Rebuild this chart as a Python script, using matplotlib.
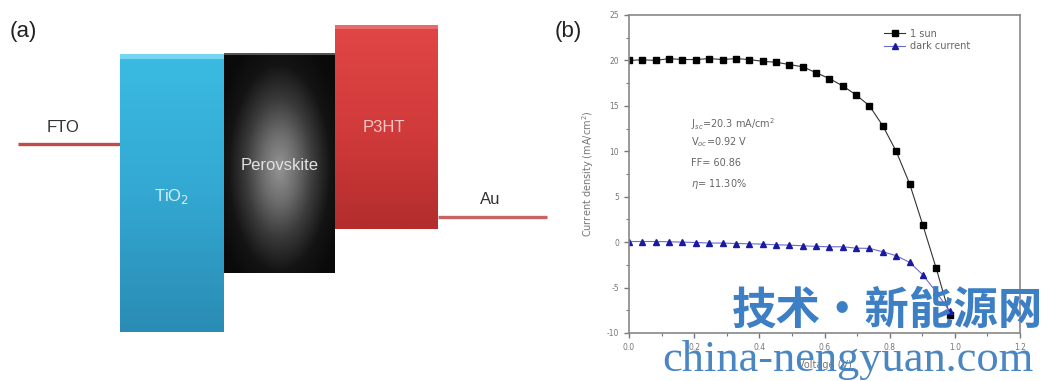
import numpy as np
import matplotlib.pyplot as plt
from matplotlib.colors import LinearSegmentedColormap

plt.rcParams["axes.unicode_minus"] = False

# J-V data
voltage = [0.000, 0.041, 0.082, 0.123, 0.164, 0.205, 0.246, 0.287, 0.328, 0.369,
           0.410, 0.451, 0.492, 0.533, 0.574, 0.615, 0.656, 0.697, 0.738, 0.779,
           0.820, 0.861, 0.902, 0.943, 0.984]
j_sun = [20.0, 20.07, 20.0, 20.2, 20.1, 20.1, 20.2, 20.1, 20.2, 20.1,
         19.9, 19.8, 19.55, 19.3, 18.65, 18.0, 17.2, 16.2, 15.0, 12.8,
         10.0, 6.45, 1.86, -2.9, -8.0]
j_dark = [0.07, 0.07, 0.07, 0.04, 0.0, -0.04, -0.1, -0.1, -0.15, -0.18,
          -0.22, -0.29, -0.33, -0.4, -0.47, -0.51, -0.51, -0.66, -0.69, -1.06,
          -1.49, -2.22, -3.6, -5.5, -7.6]

# energy diagram blocks (pixel coords: x0, x1, y_top, y_bottom)
layers = ["TiO$_2$", "Perovskite", "P3HT"]
layer_x = [(120, 224), (224, 335), (335, 438)]
layer_y = [(54, 332), (53, 273), (25, 229)]
electrodes = ["FTO", "Au"]
electrode_x = [(18, 120), (438, 547)]
electrode_y = [144, 217]

fig = plt.figure(figsize=(10.45, 3.81), dpi=100)
bg = fig.add_axes([0, 0, 1, 1])
bg.set_xlim(0, 1045)
bg.set_ylim(381, 0)
bg.axis("off")

# TiO2 - blue vertical gradient
cm_tio2 = LinearSegmentedColormap.from_list("t", ["#3bbbe1", "#33a8d2", "#2a8cb4"])
grad = np.linspace(0, 1, 200).reshape(-1, 1)
(x0, x1), (yt, yb) = layer_x[0], layer_y[0]
bg.imshow(grad, cmap=cm_tio2, extent=(x0, x1, yb, yt), aspect="auto", zorder=2)
bg.fill_between([x0, x1], yt, yt + 5, color="#74d6f2", zorder=3, lw=0)

# Perovskite - radial gray gradient
(x0, x1), (yt, yb) = layer_x[1], layer_y[1]
gx, gy = np.meshgrid(np.linspace(x0, x1, 120), np.linspace(yt, yb, 240))
cx, cy = (x0 + x1) / 2, (yt + yb) / 2 + 5
r = np.sqrt(((gx - cx) / 62) ** 2 + ((gy - cy) / 125) ** 2)
cm_per = LinearSegmentedColormap.from_list("p", ["#939393", "#6c6c6c", "#3a3a3a", "#141414", "#0a0a0a"])
bg.imshow(np.clip(r, 0, 1.1), cmap=cm_per, extent=(x0, x1, yb, yt), aspect="auto", zorder=2)
bg.fill_between([x0, x1], yt, yt + 2, color="#555555", zorder=3, lw=0)

# P3HT - red vertical gradient
cm_p3 = LinearSegmentedColormap.from_list("r", ["#e04646", "#d23b3b", "#b32d2d"])
(x0, x1), (yt, yb) = layer_x[2], layer_y[2]
bg.imshow(grad, cmap=cm_p3, extent=(x0, x1, yb, yt), aspect="auto", zorder=2)
bg.fill_between([x0, x1], yt, yt + 4, color="#ea6a6a", zorder=3, lw=0)

label_pos = [(172, 197), (280, 165), (384, 127)]
label_col = ["#d5eef7", "#e2e2e2", "#f7c8c8"]
for name, (lx, ly), c in zip(layers, label_pos, label_col):
    bg.text(lx, ly, name, color=c, fontsize=12, ha="center", va="center",
            family="Liberation Sans", zorder=4)

for name, (ex0, ex1), ey, c in zip(electrodes, electrode_x, electrode_y, ["#c24b4b", "#c86464"]):
    bg.plot([ex0, ex1], [ey, ey], color=c, lw=2.4, solid_capstyle="butt", zorder=1)
bg.text(63, 128, "FTO", fontsize=12, color="#333333", ha="center", va="center", family="Liberation Sans")
bg.text(490, 200, "Au", fontsize=12, color="#333333", ha="center", va="center", family="Liberation Sans")
bg.text(10, 31, "(a)", fontsize=16, color="#222222", va="center", family="Liberation Sans")
bg.text(555, 31, "(b)", fontsize=16, color="#222222", va="center", family="Liberation Sans")

# panel (b)
ax = fig.add_axes([629 / 1045, 48 / 381, 391 / 1045, 318 / 381])
gray = "#777777"
ax.plot(voltage, j_sun, color="#333333", lw=0.8, marker="s", ms=4.2,
        mfc="black", mec="black", label="1 sun")
ax.plot(voltage, j_dark, color="#6a6ad0", lw=0.8, marker="^", ms=5,
        mfc="#1a1aa0", mec="#1a1aa0", label="dark current")
ax.set_xlim(0, 1.2)
ax.set_ylim(-10, 25)
ax.set_xticks(np.arange(0, 1.21, 0.2))
ax.set_xticks(np.arange(0.1, 1.2, 0.2), minor=True)
ax.set_yticks(np.arange(-10, 26, 5))
ax.set_yticks(np.arange(-7.5, 25, 5), minor=True)
ax.set_xticklabels([f"{v:.1f}" for v in np.arange(0, 1.21, 0.2)])
ax.tick_params(which="both", direction="out", colors=gray, labelsize=5.5, labelcolor=gray)
ax.tick_params(which="major", length=3.5, width=1)
ax.tick_params(which="minor", length=2.2, width=0.8)
for s in ax.spines.values():
    s.set_color("#888888")
    s.set_linewidth(1.2)
ax.set_ylabel("Current density (mA/cm$^2$)", fontsize=7, color=gray, labelpad=8)
ax.set_xlabel("Voltage (V)", fontsize=7, color=gray, labelpad=6)

ann = [r"J$_{sc}$=20.3 mA/cm$^2$", r"V$_{oc}$=0.92 V", "FF= 60.86", r"$\eta$= 11.30%"]
ann_y = [13.0, 11.0, 8.7, 6.4]
for t, yy in zip(ann, ann_y):
    ax.text(0.19, yy, t, fontsize=7, color="#666666", va="center")

leg = ax.legend(loc="upper left", bbox_to_anchor=(0.63, 0.985), frameon=False,
                fontsize=7, handlelength=2.2, handletextpad=0.5, labelspacing=0.3)
for t in leg.get_texts():
    t.set_color("#666666")

# site watermark
fig.text(888, 381 - 311, "技术・新能源网", transform=None, fontsize=32, fontweight="bold",
         color="#3d7fc4", ha="center", va="center", family=["Noto Sans CJK SC", "DejaVu Sans"], zorder=10)
fig.text(848, 381 - 360, "china-nengyuan.com", transform=None, fontsize=32,
         color="#4a86c2", ha="center", va="center", family="Liberation Serif", zorder=10)

fig.savefig("out.png", dpi=100)
